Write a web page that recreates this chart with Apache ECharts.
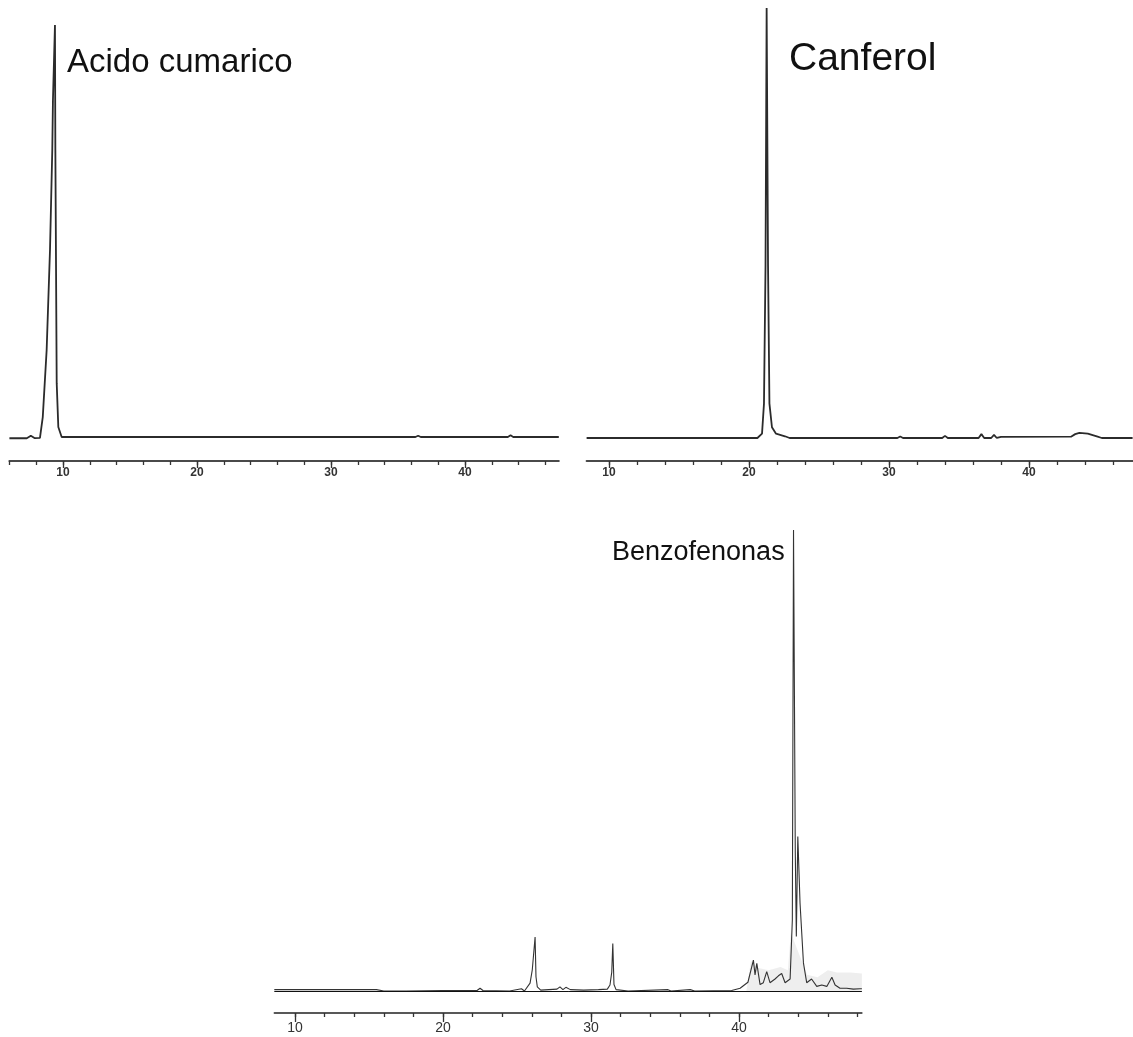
<!DOCTYPE html>
<html>
<head>
<meta charset="utf-8">
<title>Cromatogramas</title>
<script src="https://cdn.jsdelivr.net/npm/echarts@6/dist/echarts.min.js"></script>
<style>
  html, body { margin: 0; padding: 0; background: #fff; }
  #grafico { width: 1133px; height: 1037px; }
</style>
</head>
<body>
<div id="grafico"></div>
<script>
// Tempos de retenção (min) e sinal relativo (pico maior = 100).
const tempoCumarico = [6.0, 7.3, 7.6, 7.9, 8.28, 8.49, 8.78, 9.03, 9.2, 9.25, 9.4, 9.43, 9.53, 9.65, 9.9, 12, 36.3, 36.5, 36.7, 43.2, 43.4, 43.6, 47];
const sinalCumarico = [0.2, 0.2, 0.8, 0.2, 0.3, 5.3, 21.5, 45.7, 69.8, 81.9, 100, 69.8, 13.5, 2.9, 0.5, 0.5, 0.5, 0.8, 0.5, 0.5, 0.9, 0.5, 0.5];

const tempoCanferol = [8.4, 20.6, 20.93, 21.07, 21.18, 21.26, 21.36, 21.46, 21.64, 21.93, 22.57, 22.9, 30.6, 30.8, 31.0, 33.8, 34.0, 34.2, 36.4, 36.6, 36.8, 37.3, 37.5, 37.7, 38.0, 43.0, 43.3, 43.6, 44.2, 44.9, 45.2, 47.4];
const sinalCanferol = [0, 0, 1, 8, 40, 100, 40, 8, 2.5, 1, 0.4, 0, 0, 0.35, 0, 0, 0.5, 0, 0, 0.9, 0, 0, 0.7, 0, 0.25, 0.3, 0.9, 1.2, 1.0, 0.3, 0, 0];

const tempoBenzo = [8.6, 15.5, 16, 17.5, 20, 22.3, 22.5, 22.7, 24.5, 25.3, 25.5, 25.88, 26.03, 26.22, 26.28, 26.37, 26.6, 27.7, 27.9, 28.1, 28.3, 28.6, 29.5, 30.5, 31.1, 31.28, 31.4, 31.47, 31.55, 31.69, 32.5, 35.2, 35.4, 36.7, 37, 39.5, 40.07, 40.6, 40.97, 41.08, 41.2, 41.42, 41.64, 41.87, 42.09, 42.43, 42.66, 42.88, 43.11, 43.45, 43.6, 43.68, 43.8, 43.87, 43.97, 44.12, 44.35, 44.57, 44.9, 45.02, 45.25, 45.59, 45.93, 46.27, 46.49, 46.82, 47.27, 47.72, 48.17, 48.3];
const sinalBenzo = [0.3, 0.3, 0, 0, 0.1, 0.1, 0.6, 0.1, 0, 0.5, 0, 1.7, 4.6, 11.7, 3.1, 0.9, 0.2, 0.4, 0.9, 0.3, 0.8, 0.3, 0.2, 0.3, 0.4, 1.3, 4.1, 10.3, 1.4, 0.3, 0, 0.3, 0, 0.3, 0, 0.1, 0.6, 1.9, 6.7, 3.5, 6.0, 1.4, 1.8, 4.2, 1.8, 2.6, 3.3, 3.8, 1.8, 2.6, 15.4, 100, 30, 11.8, 33.5, 19.1, 6.1, 1.8, 2.6, 3.0, 1.0, 1.3, 1.0, 3.0, 1.3, 0.6, 0.6, 0.4, 0.5, 0.5];

// traço cinza claro (ruído sobreposto) no fim do cromatograma de benzofenonas
const tempoRuido = [40.5, 40.8, 41.3, 42, 42.8, 43.3, 43.5, 44.6, 45.3, 46, 46.6, 47.5, 48.3];
const sinalRuido = [0, 6.5, 5, 4.5, 5.2, 4.5, 12.6, 3.5, 3, 4.5, 4, 4, 3.8];

const rotulosX = [10, 20, 30, 40];
const marcasCumarico = [6, 8, 10, 12, 14, 16, 18, 20, 22, 24, 26, 28, 30, 32, 34, 36, 38, 40, 42, 44, 46];
const marcasCanferol = [10, 12, 14, 16, 18, 20, 22, 24, 26, 28, 30, 32, 34, 36, 38, 40, 42, 44, 46];
const marcasBenzo = [10, 12, 14, 16, 18, 20, 22, 24, 26, 28, 30, 32, 34, 36, 38, 40, 42, 44, 46, 48];

const juntar = (t, s) => t.map((x, i) => [x, s[i]]);

const FONTE = "'Liberation Sans', Arial, sans-serif";

// painéis: posição da grade + faixa dos eixos
const paineis = [
  { grid: { left: 9.4, top: 25, width: 549.4, height: 436 }, x: [6, 47], y: [-5.3, 100],
    marcas: marcasCumarico, fonte: 12, peso: "bold", margem: 6, tick: [4, 7], eixo: { color: "#4a4a4a", width: 2 } },
  { grid: { left: 586.6, top: 8, width: 546, height: 453 }, x: [8.4, 47.4], y: [-5.35, 100],
    marcas: marcasCanferol, fonte: 12, peso: "bold", margem: 6, tick: [4, 7], eixo: { color: "#4a4a4a", width: 2 } },
  { grid: { left: 274.3, top: 530, width: 587.6, height: 483 }, x: [8.6, 48.3], y: [-4.77, 100],
    marcas: marcasBenzo, fonte: 14, peso: "normal", margem: 8, tick: [4, 9], eixo: { color: "#222", width: 1.5 } },
];

const xAxis = [];
paineis.forEach((p, i) => {
  // eixo principal: linha, marcas menores e rótulos
  xAxis.push({
    type: "value", gridIndex: i, min: p.x[0], max: p.x[1], position: "bottom",
    axisLine: { onZero: false, lineStyle: p.eixo },
    axisTick: { customValues: p.marcas, length: p.tick[0], lineStyle: { color: "#333", width: 1.3 } },
    axisLabel: { customValues: rotulosX, fontSize: p.fonte, fontWeight: p.peso, color: "#333", fontFamily: FONTE, margin: p.margem },
    splitLine: { show: false },
  });
  // sobreposto: marcas maiores a cada 10 min
  xAxis.push({
    type: "value", gridIndex: i, min: p.x[0], max: p.x[1], position: "bottom",
    axisLine: { show: false, onZero: false },
    axisTick: { customValues: rotulosX, length: p.tick[1], lineStyle: { color: "#333", width: 1.3 } },
    axisLabel: { show: false },
    splitLine: { show: false },
  });
});

const opcao = {
  animation: false,
  backgroundColor: "#ffffff",
  grid: paineis.map(p => p.grid),
  xAxis,
  yAxis: paineis.map((p, i) => ({ type: "value", gridIndex: i, min: p.y[0], max: p.y[1], show: false })),
  series: [
    { type: "line", xAxisIndex: 0, yAxisIndex: 0, data: juntar(tempoCumarico, sinalCumarico),
      showSymbol: false, lineStyle: { color: "#2b2b2b", width: 1.8 } },
    { type: "line", xAxisIndex: 2, yAxisIndex: 1, data: juntar(tempoCanferol, sinalCanferol),
      showSymbol: false, lineStyle: { color: "#2b2b2b", width: 1.8 } },
    { type: "line", xAxisIndex: 4, yAxisIndex: 2, data: juntar(tempoRuido, sinalRuido), z: 1,
      showSymbol: false, lineStyle: { width: 0 }, areaStyle: { color: "#ececec", opacity: 0.9 } },
    { type: "line", xAxisIndex: 4, yAxisIndex: 2, data: juntar(tempoBenzo, sinalBenzo), z: 3,
      showSymbol: false, lineStyle: { color: "#333", width: 1.1 },
      markLine: { silent: true, symbol: ["none", "none"], label: { show: false },
        lineStyle: { color: "#111", width: 1, type: "solid" }, data: [{ yAxis: 0 }] } },
  ],
  graphic: [
    { type: "text", left: 67, top: 46, style: { text: "Acido cumarico", font: `33px ${FONTE}`, fill: "#111" } },
    { type: "text", left: 789, top: 40, style: { text: "Canferol", font: `39px ${FONTE}`, fill: "#111" } },
    { type: "text", left: 612, top: 539, style: { text: "Benzofenonas", font: `27px ${FONTE}`, fill: "#111" } },
  ],
};

const g = echarts.init(document.getElementById("grafico"));
g.setOption(opcao);
</script>
</body>
</html>
